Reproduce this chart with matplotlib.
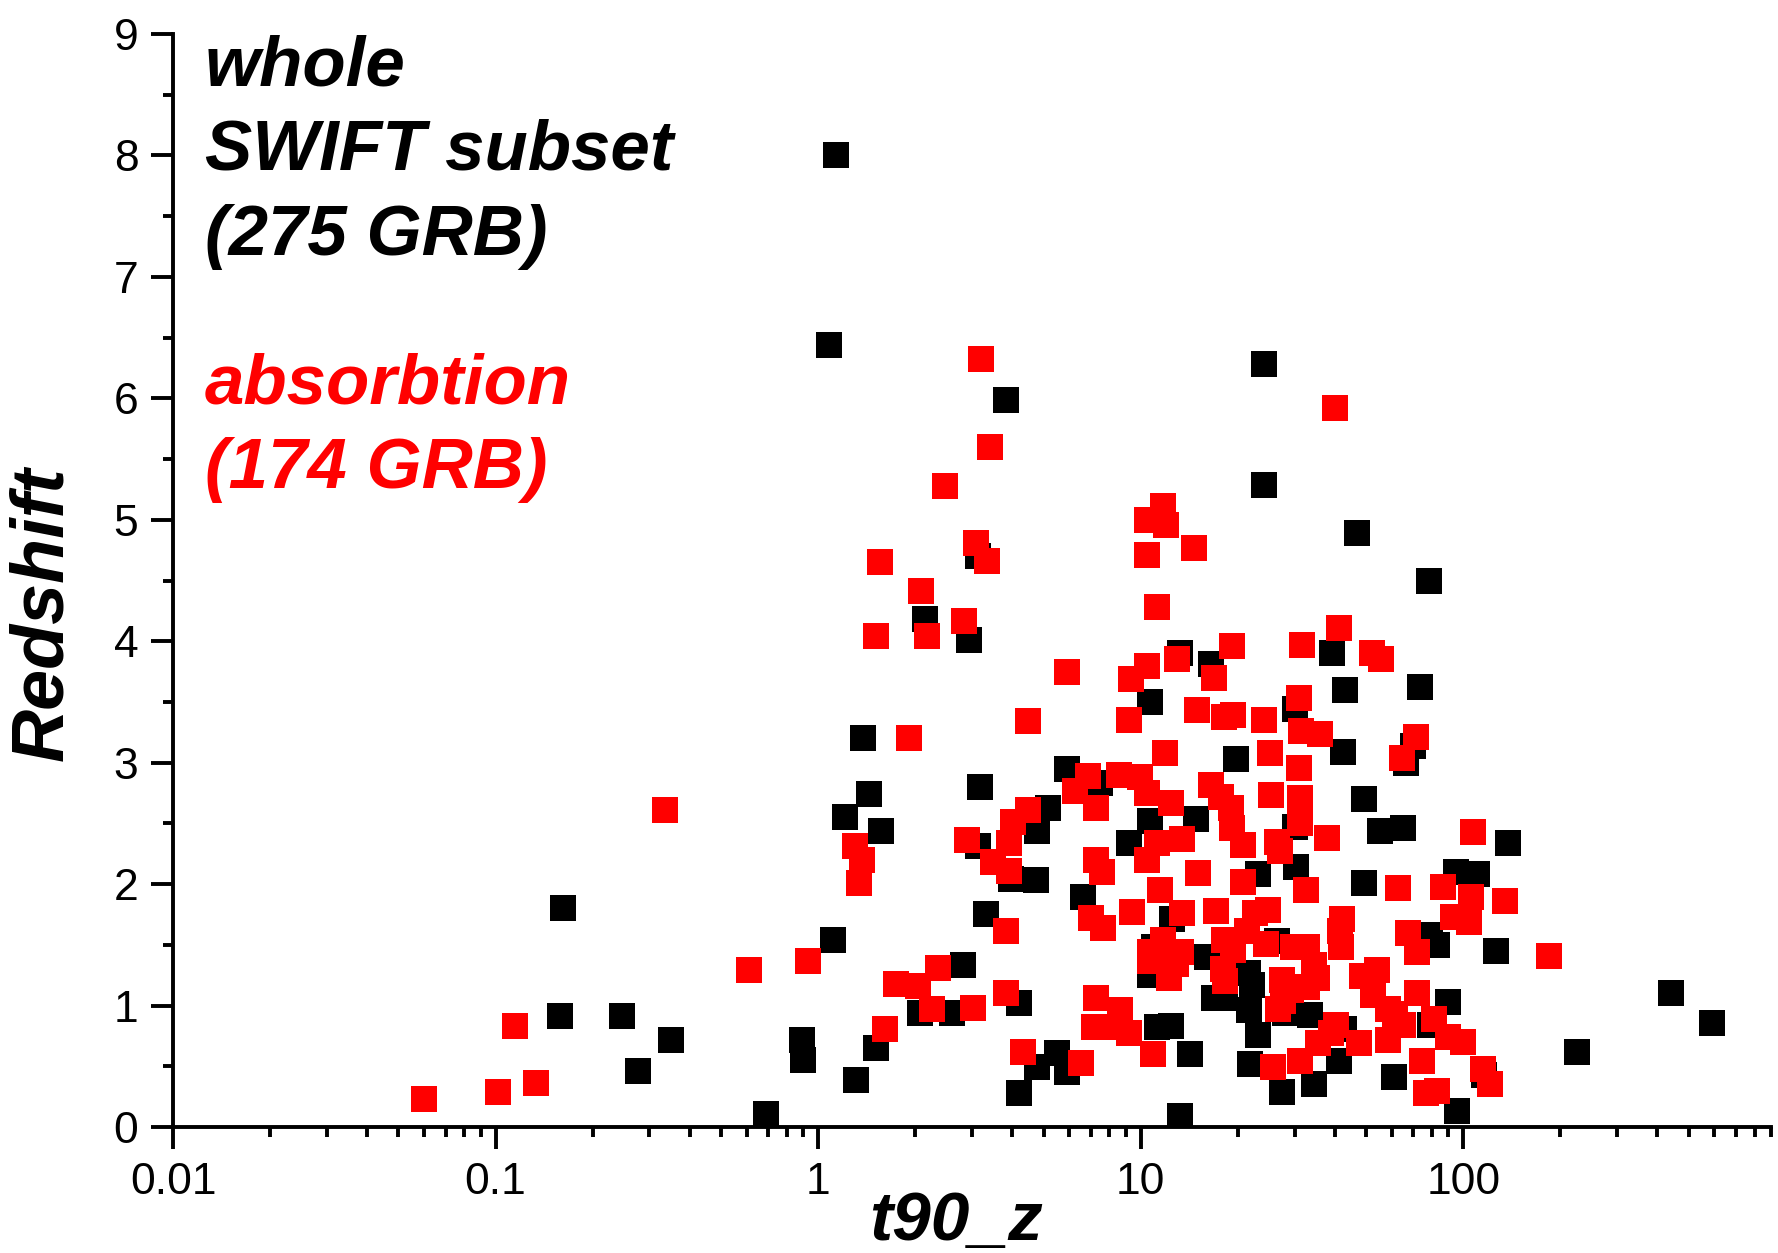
import matplotlib
matplotlib.use('Agg')
import matplotlib.pyplot as plt
import matplotlib.ticker as ticker

plt.rcParams['font.family'] = ['Liberation Sans', 'DejaVu Sans']

# whole SWIFT subset (t90_z, redshift)
black_t = [1.14, 1.08, 3.83, 24.1, 24.1, 46.7, 78.5, 3.13, 2.14, 2.93,
           39.1, 43.1, 73.5, 10.7, 13.2, 16.5, 30.2, 1.38, 19.7, 42.4,
           66.7, 70.0, 3.18, 1.44, 5.93, 5.17, 7.50, 1.21, 1.57, 4.77,
           49.1, 55.4, 65.1, 10.7, 14.8, 30.2, 9.19, 3.13, 138, 23.1,
           30.4, 95.3, 110, 3.96, 4.73, 49.1, 6.64, 12.5, 3.31, 0.162,
           1.11, 83.0, 79.1, 126, 11.0, 16.1, 2.82, 10.7, 21.5, 22.2,
           16.9, 18.3, 21.7, 4.19, 440, 90.0, 589, 2.07, 2.60, 28.1,
           33.5, 42.7, 23.1, 11.2, 12.4, 0.246, 0.158, 0.349, 0.893, 0.90,
           1.51, 5.52, 5.93, 4.77, 14.2, 21.8, 41.1, 61.1, 225, 116,
           0.276, 1.31, 4.19, 27.4, 34.4, 96.0, 0.689, 13.2, 79.1, 26.5]
black_z = [8.00, 6.44, 5.99, 6.28, 5.29, 4.89, 4.50, 4.70, 4.18, 4.01,
           3.90, 3.60, 3.62, 3.50, 3.90, 3.81, 3.44, 3.20, 3.03, 3.09,
           3.00, 3.14, 2.80, 2.74, 2.95, 2.63, 2.83, 2.55, 2.44, 2.44,
           2.70, 2.44, 2.46, 2.52, 2.54, 2.47, 2.34, 2.31, 2.34, 2.08,
           2.14, 2.10, 2.08, 2.04, 2.03, 2.01, 1.89, 1.71, 1.75, 1.80,
           1.54, 1.50, 1.58, 1.45, 1.48, 1.40, 1.33, 1.25, 1.27, 1.17,
           1.06, 1.06, 0.96, 1.02, 1.10, 1.03, 0.86, 0.94, 0.94, 0.94,
           0.92, 0.81, 0.76, 0.82, 0.83, 0.91, 0.91, 0.72, 0.72, 0.55,
           0.65, 0.61, 0.45, 0.49, 0.60, 0.52, 0.54, 0.41, 0.62, 0.43,
           0.46, 0.39, 0.28, 0.29, 0.35, 0.13, 0.11, 0.09, 0.84, 1.53]

# absorbtion subset
red_t = [3.21, 40.1, 3.42, 2.48, 11.7, 10.5, 12.0, 14.6, 10.5, 3.08,
         3.34, 1.56, 2.09, 11.2, 2.84, 1.51, 2.18, 41.1, 31.7, 19.2,
         52.3, 55.8, 13.0, 10.5, 5.89, 9.34, 16.9, 30.9, 14.9, 4.47,
         9.19, 18.1, 19.3, 24.1, 31.4, 36.1, 71.2, 1.91, 11.9, 25.1,
         64.6, 30.9, 0.335, 6.87, 8.54, 9.96, 16.5, 6.28, 10.5, 17.7,
         25.3, 31.1, 7.26, 4.47, 12.4, 19.0, 4.02, 19.2, 31.1, 3.90,
         2.89, 20.8, 37.9, 107, 13.4, 11.2, 1.30, 3.48, 1.37, 1.34,
         3.90, 7.26, 10.5, 26.5, 27.0, 15.1, 20.8, 32.5, 63.0, 7.57,
         86.4, 106, 135, 9.41, 17.1, 24.9, 42.1, 93.0, 104, 7.03,
         7.62, 13.4, 41.4, 67.3, 3.83, 11.7, 18.1, 24.5, 29.7, 32.7,
         41.7, 10.7, 13.3, 184, 71.8, 10.7, 12.9, 18.0, 34.4, 35.2,
         12.2, 2.36, 0.930, 0.610, 18.3, 27.4, 48.7, 54.1, 1.75, 2.04,
         29.2, 32.7, 52.7, 71.8, 3.83, 7.26, 27.6, 2.25, 3.03, 8.61,
         26.7, 58.6, 61.5, 81.1, 65.1, 7.15, 8.47, 40.4, 38.8, 1.61,
         0.115, 9.19, 90.0, 100, 35.5, 47.5, 58.6, 10.9, 4.33, 6.54,
         74.7, 25.7, 31.1, 115, 121, 76.6, 83.0, 0.133, 0.102, 0.0598,
         11.5, 22.7, 21.3, 19.3]
red_z = [6.32, 5.92, 5.60, 5.28, 5.11, 5.00, 4.96, 4.77, 4.71, 4.81,
         4.66, 4.65, 4.41, 4.28, 4.17, 4.04, 4.04, 4.11, 3.97, 3.96,
         3.90, 3.85, 3.85, 3.80, 3.75, 3.69, 3.70, 3.53, 3.43, 3.34,
         3.35, 3.38, 3.39, 3.35, 3.26, 3.24, 3.21, 3.20, 3.08, 3.08,
         3.04, 2.96, 2.61, 2.89, 2.90, 2.88, 2.82, 2.77, 2.75, 2.72,
         2.73, 2.71, 2.63, 2.61, 2.67, 2.63, 2.51, 2.46, 2.50, 2.34,
         2.36, 2.32, 2.38, 2.43, 2.37, 2.34, 2.31, 2.18, 2.20, 2.01,
         2.11, 2.20, 2.20, 2.35, 2.27, 2.09, 2.02, 1.95, 1.97, 2.10,
         1.98, 1.89, 1.86, 1.77, 1.78, 1.79, 1.71, 1.73, 1.69, 1.72,
         1.64, 1.76, 1.61, 1.60, 1.61, 1.54, 1.54, 1.51, 1.48, 1.48,
         1.48, 1.44, 1.44, 1.41, 1.44, 1.37, 1.34, 1.30, 1.33, 1.23,
         1.23, 1.31, 1.37, 1.29, 1.20, 1.21, 1.24, 1.29, 1.18, 1.16,
         1.13, 1.15, 1.09, 1.10, 1.10, 1.06, 1.04, 0.97, 0.98, 0.96,
         0.97, 0.97, 0.93, 0.89, 0.84, 0.82, 0.82, 0.84, 0.77, 0.81,
         0.83, 0.77, 0.74, 0.70, 0.69, 0.69, 0.72, 0.60, 0.62, 0.53,
         0.54, 0.49, 0.54, 0.48, 0.35, 0.28, 0.30, 0.36, 0.29, 0.23,
         1.95, 1.76, 1.61, 1.46]

x_ticks = [0.01, 0.1, 1, 10, 100]
x_ticklabels = ['0.01', '0.1', '1', '10', '100']
y_ticks = list(range(0, 10))

fig = plt.figure(figsize=(17.78, 12.53), dpi=100)
ax = fig.add_axes([173 / 1778, 1 - 1127 / 1253, 1598 / 1778, 1093 / 1253])

ax.scatter(black_t, black_z, s=350, marker='s', color='black', linewidths=0, zorder=2)
ax.scatter(red_t, red_z, s=350, marker='s', color='red', linewidths=0, zorder=3)

ax.set_xscale('log')
ax.set_xlim(0.01, 900)
ax.set_ylim(0, 9)

ax.set_xticks(x_ticks)
ax.set_xticklabels(x_ticklabels)
ax.xaxis.set_minor_locator(ticker.LogLocator(base=10, subs=range(2, 10), numticks=20))
ax.xaxis.set_minor_formatter(ticker.NullFormatter())
ax.set_yticks(y_ticks)
ax.yaxis.set_minor_locator(ticker.MultipleLocator(0.5))

for side in ['top', 'right']:
    ax.spines[side].set_visible(False)
for side in ['left', 'bottom']:
    ax.spines[side].set_linewidth(2.8)
    ax.spines[side].set_zorder(5)

ax.tick_params(which='major', direction='out', length=16, width=2.8, labelsize=32, pad=9)
ax.tick_params(which='minor', direction='out', length=7, width=2.8)

ax.set_xlabel('t90_z', fontsize=50, fontweight='bold', fontstyle='italic')
ax.set_ylabel('Redshift', fontsize=53, fontweight='bold', fontstyle='italic')
ax.xaxis.set_label_coords(0.49, -0.058)
ax.yaxis.set_label_coords(-0.06, 0.47)

# legend-like annotations
txt = dict(transform=ax.transAxes, fontsize=51, fontweight='bold',
           fontstyle='italic', va='baseline')
ax.text(0.020, 0.953, 'whole', color='black', **txt)
ax.text(0.020, 0.876, 'SWIFT subset', color='black', **txt)
ax.text(0.020, 0.798, '(275 GRB)', color='black', **txt)
ax.text(0.020, 0.662, 'absorbtion', color='red', **txt)
ax.text(0.020, 0.585, '(174 GRB)', color='red', **txt)

plt.savefig('out.png', dpi=100)
